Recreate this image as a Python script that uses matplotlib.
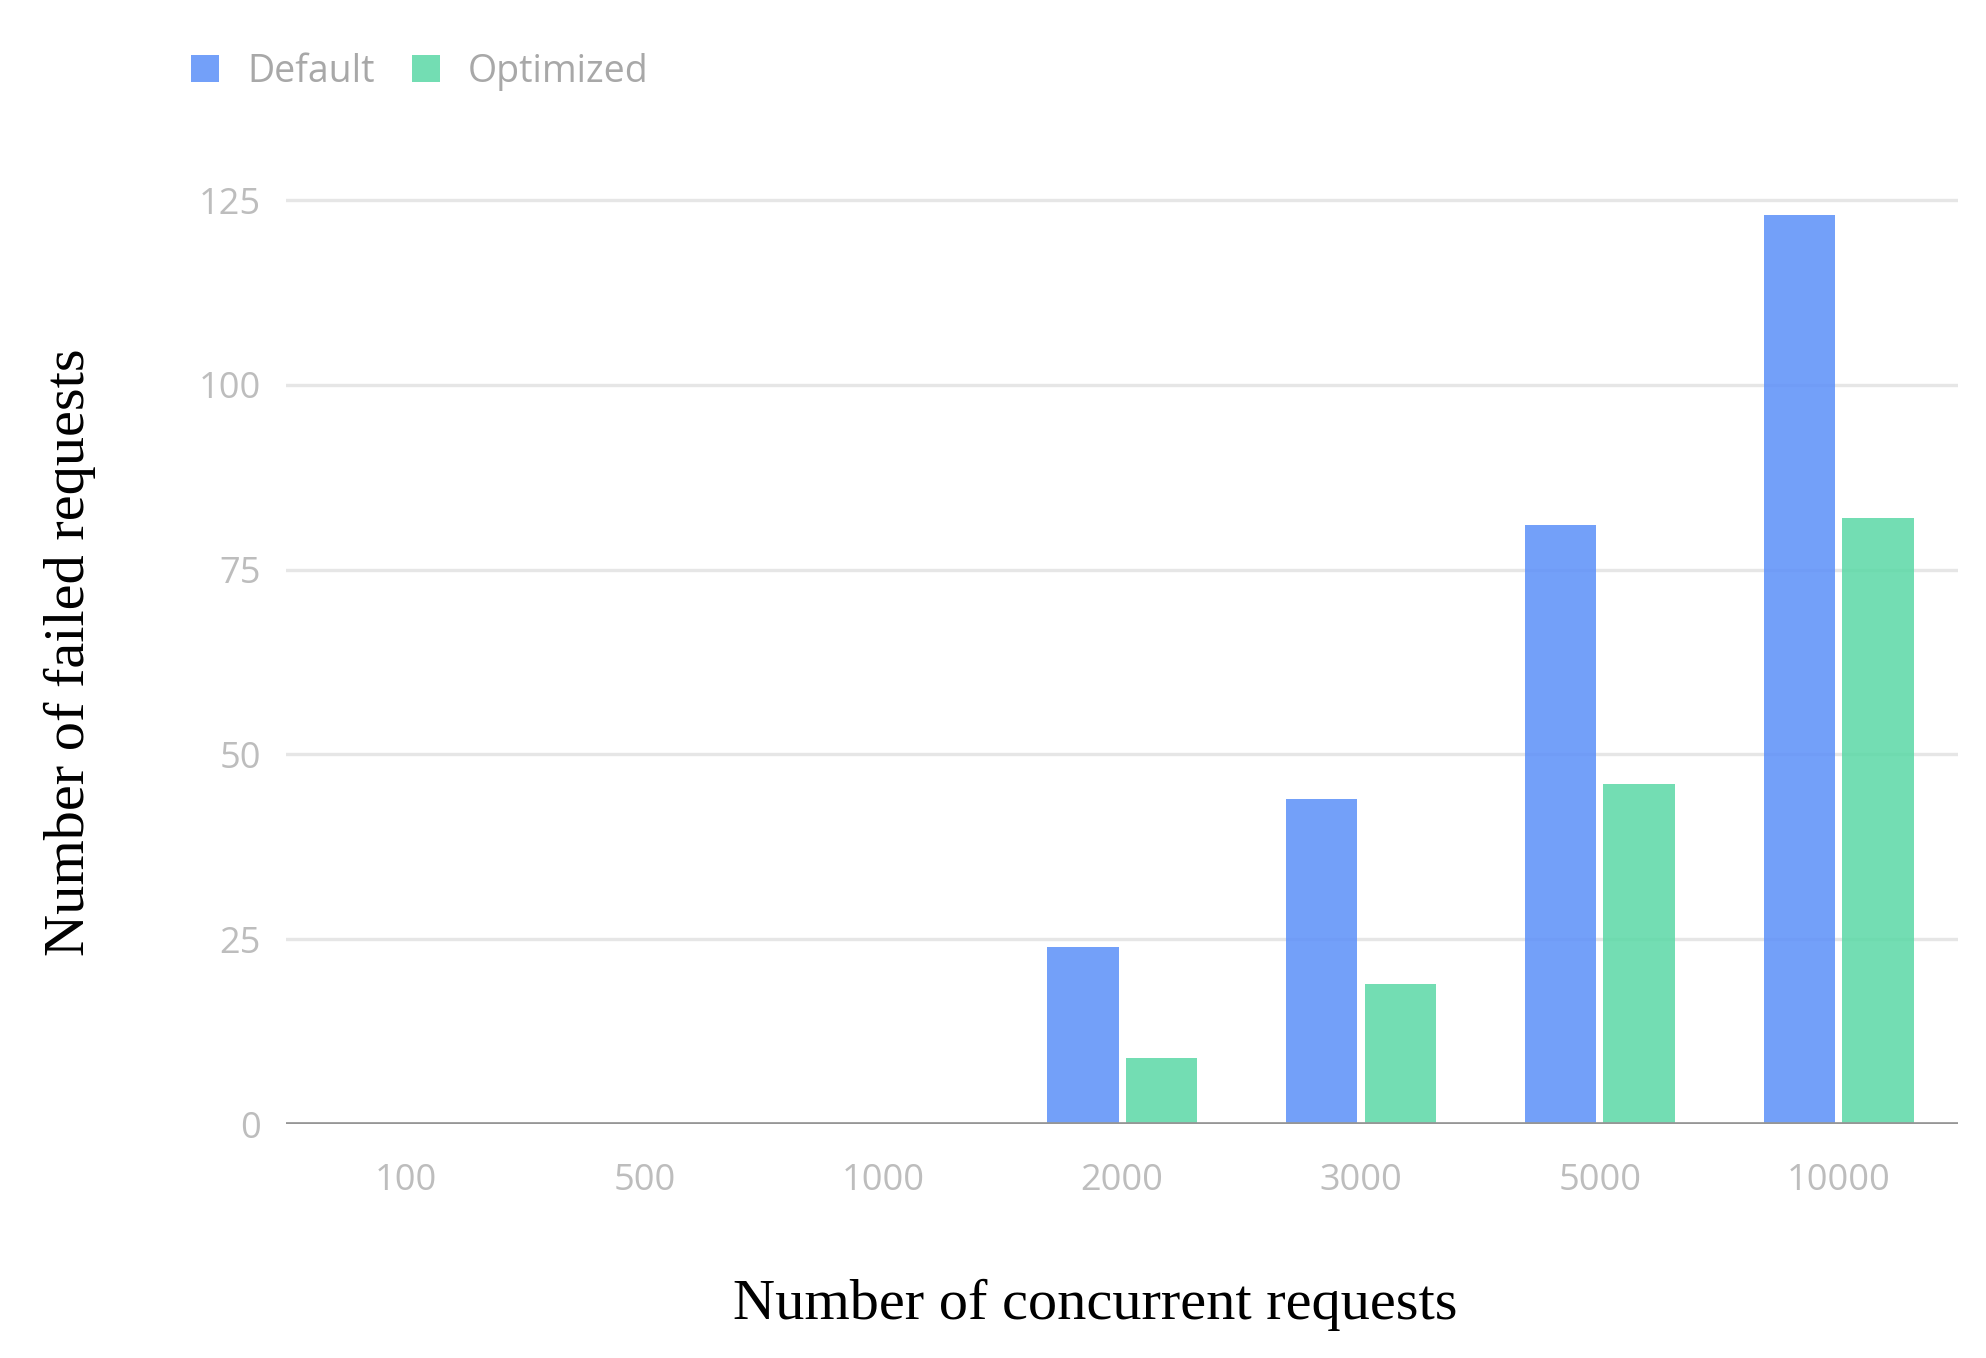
import matplotlib.pyplot as plt
import numpy as np
from matplotlib.patches import Patch

categories = ["100", "500", "1000", "2000", "3000", "5000", "10000"]
default = [0, 0, 0, 24, 44, 81, 123]
optimized = [0, 0, 0, 9, 19, 46, 82]
yticks = [0, 25, 50, 75, 100, 125]

blue = "#5b8ff9"
green = "#5ad8a6"

fig = plt.figure(figsize=(19.86, 13.58), dpi=100)
ax = fig.add_axes([0.144, 0.1723, 0.842, 0.6966])

x = np.arange(len(categories))
w = 0.30
ax.bar(x - 0.165, default, w, color=blue, alpha=0.85, zorder=3, linewidth=0)
ax.bar(x + 0.165, optimized, w, color=green, alpha=0.85, zorder=3, linewidth=0)

ax.set_xlim(-0.5, len(categories) - 0.5)
ax.set_ylim(0, 128)
ax.set_yticks(yticks)
ax.set_xticks(x)
ax.set_xticklabels(categories)
for s in ax.spines.values():
    s.set_visible(False)
ax.grid(axis="y", color="#e6e6e6", linewidth=2.4, zorder=0)
ax.axhline(0, color="#969696", linewidth=3.4, zorder=4)
ax.tick_params(axis="both", length=0, labelcolor="#bdbdbd", labelsize=26)
ax.tick_params(axis="y", pad=18)
ax.tick_params(axis="x", pad=28)
for lbl in ax.get_xticklabels() + ax.get_yticklabels():
    lbl.set_fontfamily("Open Sans")

ax.set_xlabel("Number of concurrent requests", fontsize=42,
              fontfamily="Liberation Serif", color="black", va="center")
ax.xaxis.set_label_coords(0.484, -0.191)
ax.set_ylabel("Number of failed requests", fontsize=42,
              fontfamily="Liberation Serif", color="black", va="center")
ax.yaxis.set_label_coords(-0.129, 0.499)

handles = [Patch(facecolor=blue, alpha=0.85, label="Default"),
           Patch(facecolor=green, alpha=0.85, label="Optimized")]
leg = fig.legend(handles=handles, loc="upper left", bbox_to_anchor=(0.079, 0.986),
                 ncol=2, frameon=False, handlelength=0.75, handleheight=0.75,
                 handletextpad=0.75, columnspacing=1.0,
                 prop={"family": "Open Sans", "size": 27})
for t in leg.get_texts():
    t.set_color("#a8a8a8")

fig.savefig("out.png", dpi=100)
